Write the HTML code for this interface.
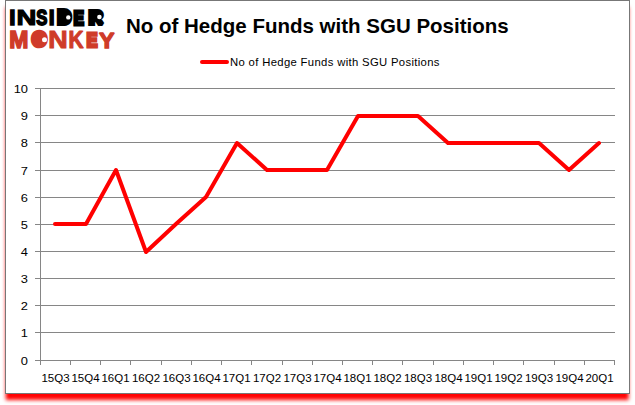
<!DOCTYPE html>
<html><head><meta charset="utf-8"><title>No of Hedge Funds with SGU Positions</title>
<style>
html,body{margin:0;padding:0;background:#fff;}
body{width:635px;height:405px;position:relative;overflow:hidden;}
.frame{position:absolute;left:5px;top:0;width:625px;height:394px;box-sizing:border-box;border:1px solid #777;background:#fff;box-shadow:0 6.6px 3.8px -0.8px #ff0000;}
.chart{position:absolute;left:0;top:0;}
text{vector-effect:non-scaling-stroke;}
</style></head><body>
<div class="frame"></div>
<svg class="chart" width="635" height="405" viewBox="0 0 635 405">
<g fill="#868686" shape-rendering="crispEdges">
<rect x="35" y="360" width="580" height="1"/>
<rect x="35" y="332" width="580" height="1"/>
<rect x="35" y="305" width="580" height="1"/>
<rect x="35" y="278" width="580" height="1"/>
<rect x="35" y="251" width="580" height="1"/>
<rect x="35" y="224" width="580" height="1"/>
<rect x="35" y="197" width="580" height="1"/>
<rect x="35" y="170" width="580" height="1"/>
<rect x="35" y="142" width="580" height="1"/>
<rect x="35" y="115" width="580" height="1"/>
<rect x="35" y="88" width="580" height="1"/>
<rect x="40" y="88" width="1" height="272"/>
<rect x="40" y="361" width="1" height="4"/>
<rect x="70" y="361" width="1" height="4"/>
<rect x="100" y="361" width="1" height="4"/>
<rect x="130" y="361" width="1" height="4"/>
<rect x="161" y="361" width="1" height="4"/>
<rect x="191" y="361" width="1" height="4"/>
<rect x="221" y="361" width="1" height="4"/>
<rect x="251" y="361" width="1" height="4"/>
<rect x="282" y="361" width="1" height="4"/>
<rect x="312" y="361" width="1" height="4"/>
<rect x="342" y="361" width="1" height="4"/>
<rect x="372" y="361" width="1" height="4"/>
<rect x="402" y="361" width="1" height="4"/>
<rect x="433" y="361" width="1" height="4"/>
<rect x="463" y="361" width="1" height="4"/>
<rect x="493" y="361" width="1" height="4"/>
<rect x="523" y="361" width="1" height="4"/>
<rect x="554" y="361" width="1" height="4"/>
<rect x="584" y="361" width="1" height="4"/>
<rect x="614" y="361" width="1" height="4"/>
</g>
<g class="yl" font-family="'Liberation Sans', sans-serif" font-size="11.5" fill="#000" text-anchor="end">
<text transform="translate(28,365) scale(1.12,1)">0</text>
<text transform="translate(28,337) scale(1.12,1)">1</text>
<text transform="translate(28,310) scale(1.12,1)">2</text>
<text transform="translate(28,283) scale(1.12,1)">3</text>
<text transform="translate(28,256) scale(1.12,1)">4</text>
<text transform="translate(28,229) scale(1.12,1)">5</text>
<text transform="translate(28,202) scale(1.12,1)">6</text>
<text transform="translate(28,175) scale(1.12,1)">7</text>
<text transform="translate(28,147) scale(1.12,1)">8</text>
<text transform="translate(28,120) scale(1.12,1)">9</text>
<text transform="translate(28,93) scale(1.12,1)">10</text>
</g>
<g class="xl" font-family="'Liberation Sans', sans-serif" font-size="11.5" fill="#000" text-anchor="middle">
<text x="55.5" y="382">15Q3</text>
<text x="85.5" y="382">15Q4</text>
<text x="115.5" y="382">16Q1</text>
<text x="146.0" y="382">16Q2</text>
<text x="176.5" y="382">16Q3</text>
<text x="206.5" y="382">16Q4</text>
<text x="236.5" y="382">17Q1</text>
<text x="267.0" y="382">17Q2</text>
<text x="297.5" y="382">17Q3</text>
<text x="327.5" y="382">17Q4</text>
<text x="357.5" y="382">18Q1</text>
<text x="387.5" y="382">18Q2</text>
<text x="418.0" y="382">18Q3</text>
<text x="448.5" y="382">18Q4</text>
<text x="478.5" y="382">19Q1</text>
<text x="508.5" y="382">19Q2</text>
<text x="539.0" y="382">19Q3</text>
<text x="569.5" y="382">19Q4</text>
<text x="599.5" y="382">20Q1</text>
</g>
<polyline points="55.0,224 86.0,224 116.0,170 146.0,252 176.0,224 206.0,197 237.0,143 267.0,170 297.0,170 327.0,170 358.0,116 388.0,116 418.0,116 448.0,143 478.0,143 508.0,143 539.0,143 569.0,170 599.0,143" fill="none" stroke="#ff0000" stroke-width="4" stroke-linejoin="round" stroke-linecap="round"/>
<line x1="202" y1="62" x2="227" y2="62" stroke="#ff0000" stroke-width="4" stroke-linecap="round"/>
<text x="230" y="66" font-family="'Liberation Sans', sans-serif" font-size="11.3" textLength="209.5" lengthAdjust="spacing" fill="#000">No of Hedge Funds with SGU Positions</text>
<text x="126" y="33" font-family="'Liberation Sans', sans-serif" font-size="20.5" font-weight="bold" fill="#000">No of Hedge Funds with SGU Positions</text>
<g font-family="'Liberation Sans', sans-serif" font-weight="bold" font-size="100" stroke-linejoin="miter" stroke-miterlimit="2">
<g fill="#000" stroke="#000" style="vector-effect:non-scaling-stroke"><text stroke-width="1.5" transform="translate(9.35,25.25) scale(0.2239,0.2205)">I</text>
<text stroke-width="1.3" transform="translate(16.53,25.35) scale(0.2745,0.2233)">N</text>
<text stroke-width="1.6" transform="translate(36.34,25.16) scale(0.1664,0.2184)">S</text>
<text stroke-width="1.5" transform="translate(48.63,25.25) scale(0.2111,0.2205)">I</text>
<text stroke-width="6" transform="translate(58.83,23.00) scale(0.1552,0.1565)">D</text>
<text stroke-width="2.8" transform="translate(73.53,24.60) scale(0.1557,0.2020)">E</text>
<text stroke-width="4.2" transform="translate(88.91,24.20) scale(0.1904,0.1863)">R</text></g>
<g fill="#cf3b29" stroke="#cf3b29"><text stroke-width="1.5" transform="translate(9.32,47.65) scale(0.2295,0.2333)">M</text>
<text stroke-width="6.5" stroke-linejoin="round" transform="translate(33.16,45.49) scale(0.1558,0.1684)">O</text>
<text stroke-width="1.0" transform="translate(48.32,47.80) scale(0.2695,0.2318)">N</text>
<text stroke-width="1.0" transform="translate(68.49,47.70) scale(0.2103,0.2304)">K</text>
<text stroke-width="2.8" transform="translate(86.47,47.10) scale(0.1643,0.2077)">E</text>
<text stroke-width="1.4" transform="translate(99.03,47.70) scale(0.2341,0.2276)">Y</text></g>
</g>
<g fill="#fff">
<circle cx="68.3" cy="17.4" r="2.2"/><circle cx="99.4" cy="17.0" r="2.3"/><circle cx="44.5" cy="39.7" r="2.5"/>
</g>
</svg>
</body></html>
